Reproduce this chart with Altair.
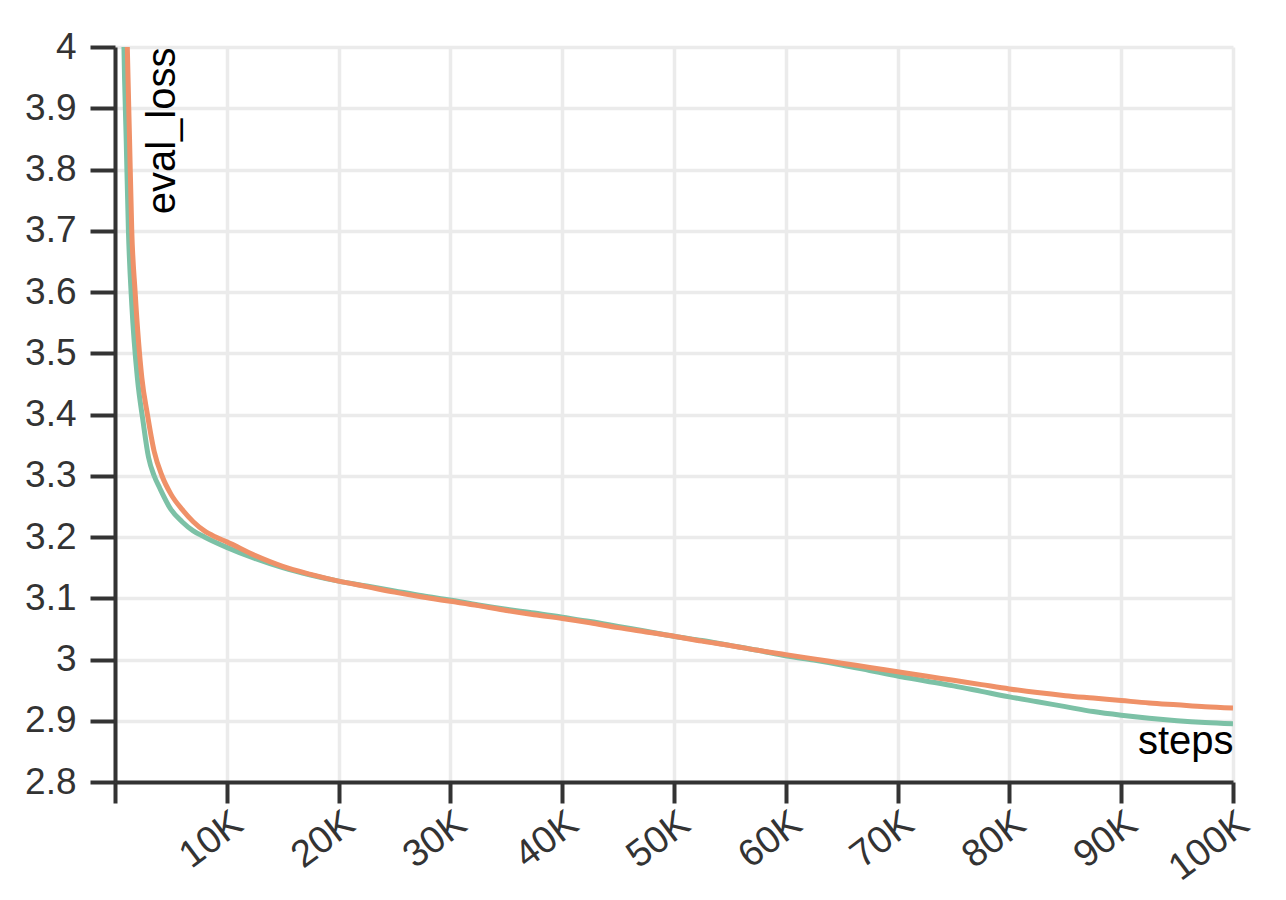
import altair as alt
import pandas as pd

# series A (teal)
steps_a = [600, 800, 1000, 1200, 1500, 2000, 2500, 3000, 3500, 4000, 5000, 6000, 7000, 8000,
           10000, 12500, 15000, 17500, 20000, 22500, 25000, 27500, 30000, 32500, 35000, 37500,
           40000, 42500, 45000, 47500, 50000, 52500, 55000, 57500, 60000, 62500, 65000, 67500,
           70000, 72500, 75000, 77500, 80000, 82500, 85000, 87500, 90000, 92500, 95000, 97500, 100000]
loss_a = [4.30, 4.00, 3.85, 3.70, 3.58, 3.46, 3.39, 3.33, 3.30, 3.28, 3.245, 3.225, 3.21, 3.20,
          3.183, 3.165, 3.150, 3.138, 3.128, 3.120, 3.112, 3.104, 3.097, 3.089, 3.082, 3.076,
          3.069, 3.062, 3.054, 3.046, 3.038, 3.031, 3.023, 3.015, 3.006, 2.999, 2.991, 2.982,
          2.973, 2.965, 2.957, 2.948, 2.939, 2.931, 2.923, 2.915, 2.909, 2.904, 2.900, 2.897, 2.895]

# series B (orange)
steps_b = [800, 1100, 1300, 1500, 1800, 2400, 2900, 3500, 4200, 5000, 6000, 7000, 8000, 9000,
           10000, 12500, 15000, 17500, 20000, 22500, 25000, 27500, 30000, 32500, 35000, 37500,
           40000, 42500, 45000, 47500, 50000, 52500, 55000, 57500, 60000, 62500, 65000, 67500,
           70000, 72500, 75000, 77500, 80000, 82500, 85000, 87500, 90000, 92500, 95000, 97500, 100000]
loss_b = [4.30, 4.00, 3.85, 3.70, 3.60, 3.46, 3.40, 3.34, 3.30, 3.27, 3.245, 3.225, 3.21, 3.20,
          3.192, 3.170, 3.152, 3.139, 3.128, 3.119, 3.110, 3.102, 3.095, 3.088, 3.080, 3.073,
          3.067, 3.060, 3.052, 3.045, 3.038, 3.030, 3.023, 3.015, 3.008, 3.001, 2.994, 2.987,
          2.980, 2.973, 2.966, 2.959, 2.952, 2.946, 2.941, 2.937, 2.933, 2.929, 2.926, 2.923, 2.921]

y_ticks = [2.8, 2.9, 3.0, 3.1, 3.2, 3.3, 3.4, 3.5, 3.6, 3.7, 3.8, 3.9, 4.0]
x_ticks = [0, 10000, 20000, 30000, 40000, 50000, 60000, 70000, 80000, 90000, 100000]

df = pd.concat([
    pd.DataFrame({"steps": steps_a, "eval_loss": loss_a, "run": "a"}),
    pd.DataFrame({"steps": steps_b, "eval_loss": loss_b, "run": "b"}),
])

FONT = "Liberation Sans"
W, H = 1118, 735

chart = alt.Chart(df).mark_line(strokeWidth=5, clip=True, interpolate="monotone").encode(
    x=alt.X("steps:Q",
            scale=alt.Scale(domain=[0, 100000], nice=False),
            axis=alt.Axis(values=x_ticks, title="steps", labelAngle=-37, labelAlign="right",
                          labelBaseline="top", labelPadding=1, labelFontSize=38, tickSize=21,
                          labelExpr="datum.value == 0 ? '' : (datum.value / 1000) + 'K'",
                          titleX=W, titleY=-29, titleAlign="right", titleBaseline="alphabetic",
                          titleAnchor=None)),
    y=alt.Y("eval_loss:Q",
            scale=alt.Scale(domain=[2.8, 4.0], nice=False, zero=False),
            axis=alt.Axis(values=y_ticks, title="eval_loss", format=".1~f",
                          labelPadding=14, tickSize=25,
                          titleX=27, titleY=0, titleAngle=-90, titleAlign="right",
                          titleBaseline="top")),
    color=alt.Color("run:N", scale=alt.Scale(domain=["a", "b"], range=["#7cc1a6", "#ef9168"]),
                    legend=None),
    order=alt.Order("run:N"),
).properties(
    width=W, height=H,
    padding={"left": 16, "top": 20, "right": 0, "bottom": 0},
).configure_view(
    stroke=None
).configure_axis(
    labelFont=FONT, labelFontSize=37, labelColor="#333333",
    titleFont=FONT, titleFontSize=40, titleColor="#000000", titleFontWeight="normal",
    domainColor="#333333", domainWidth=4,
    tickColor="#333333", tickWidth=4,
    gridColor="#ebebeb", gridWidth=3.5,
    labelOverlap=False,
)

chart.save("out.html", embed_options={"renderer": "svg", "actions": False})
